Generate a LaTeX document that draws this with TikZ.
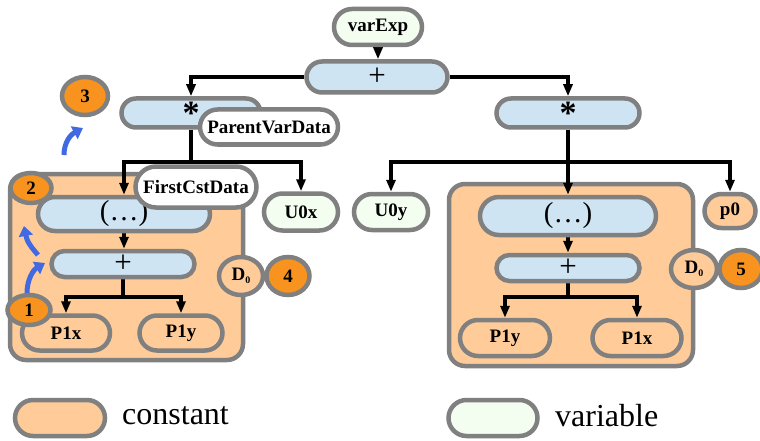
\documentclass[tikz,border=0pt]{standalone}
\usepackage{fontspec}
\setmainfont{Liberation Serif}
\usetikzlibrary{shapes.misc,shapes.geometric,arrows.meta,backgrounds}
\definecolor{cst}{HTML}{FFCC99}
\definecolor{varc}{HTML}{F3FDF0}
\definecolor{opc}{HTML}{CFE4F3}
\definecolor{numc}{HTML}{F7931E}
\definecolor{bord}{HTML}{808080}
\definecolor{barrow}{HTML}{4169E1}
\begin{document}
\begin{tikzpicture}[x=1pt,y=-1pt,
 pill/.style={rounded rectangle, draw=bord, line width=4.5pt, inner sep=0pt, font=\fontsize{19}{19}\selectfont\bfseries},
 oppill/.style={pill, fill=opc, font=\fontsize{31}{31}\selectfont},
 cpill/.style={pill, fill=cst},
 vpill/.style={pill, fill=varc},
 wpill/.style={pill, fill=white},
 numnode/.style={ellipse, draw=bord, line width=4.5pt, fill=numc, inner sep=0pt, font=\fontsize{19}{19}\selectfont\bfseries},
 dnode/.style={ellipse, draw=bord, line width=4.5pt, fill=cst, inner sep=0pt, font=\fontsize{19}{19}\selectfont\bfseries},
 cbox/.style={draw=bord, line width=4.5pt, fill=cst, rounded corners=16pt},
 conn/.style={line width=4.5pt, -{Triangle[width=9pt,length=12pt]}},
 trunk/.style={line width=4.5pt},
 barr/.style={draw=barrow, line width=5pt, -{Triangle[width=14pt,length=10pt]}},
 startxt/.style={font=\fontsize{34}{34}\selectfont\bfseries},
 partxt/.style={font=\fontsize{29}{29}\selectfont},
 legtext/.style={anchor=west, inner sep=0pt, font=\fontsize{32}{32}\selectfont},
]
\useasboundingbox (0,0) rectangle (760,441);

% top level
\node[vpill, minimum width=88pt, minimum height=36pt] (varexp) at (378,27) {varExp};
\node[oppill, minimum width=141pt, minimum height=31pt] (plusT) at (377,77) {+};
\node[oppill, startxt, minimum width=139pt, minimum height=29pt] (starL) at (191,113) {\raisebox{-7pt}{*}};
\node[wpill, minimum width=138pt, minimum height=35pt] (pvd) at (269,127) {ParentVarData};
\node[oppill, startxt, minimum width=143pt, minimum height=29pt] (starR) at (568,113) {\raisebox{-7pt}{*}};

% left constant group
\node[oppill, partxt, minimum width=172pt, minimum height=34pt] (parL) at (124,214) {(…)};
\node[wpill, minimum width=121pt, minimum height=41pt] (fcd) at (196,187) {FirstCstData};
\node[oppill, minimum width=143pt, minimum height=26pt] (plusL) at (123,264) {+};
\node[cpill, minimum width=88pt, minimum height=35pt] (p1xL) at (66,333) {P1x};
\node[cpill, minimum width=83pt, minimum height=35pt] (p1yL) at (181,333) {P1y};
\node[dnode, minimum width=44pt, minimum height=38pt] (d0L) at (241,276) {D\raisebox{-3pt}{\fontsize{10}{10}\selectfont 0}};
\node[numnode, minimum width=43pt, minimum height=38pt] (n4) at (288,276) {4};
\node[numnode, minimum width=41pt, minimum height=30pt] (n2) at (31,188) {2};
\node[numnode, minimum width=43pt, minimum height=30pt] (n1) at (29,310) {1};
\node[numnode, minimum width=46pt, minimum height=38pt] (n3) at (85,96) {3};

\node[vpill, minimum width=74pt, minimum height=37pt] (u0x) at (301,212) {U0x};
\node[vpill, minimum width=74pt, minimum height=36pt] (u0y) at (391,212) {U0y};

% right constant group
\node[oppill, partxt, minimum width=176pt, minimum height=38pt] (parR) at (568,216) {(…)};
\node[oppill, minimum width=143pt, minimum height=26pt] (plusR) at (568,268) {+};
\node[cpill, minimum width=90pt, minimum height=36pt] (p1yR) at (505,338) {P1y};
\node[cpill, minimum width=89pt, minimum height=36pt] (p1xR) at (637,338) {P1x};
\node[cpill, minimum width=51pt, minimum height=34pt] (p0) at (730,211) {p0};
\node[dnode, minimum width=46pt, minimum height=38pt] (d0R) at (694,269) {D\raisebox{-3pt}{\fontsize{10}{10}\selectfont 0}};
\node[numnode, minimum width=43pt, minimum height=38pt] (n5) at (741,269) {5};

% legend
\node[cpill, minimum width=90pt, minimum height=36pt] (legC) at (60,418) {};
\node[legtext] (legCt) at (122,416) {constant};
\node[vpill, minimum width=89pt, minimum height=36pt] (legV) at (493,418) {};
\node[legtext] (legVt) at (555,416) {variable};

% background boxes
\begin{scope}[on background layer]
\path[cbox] (10,174) rectangle (243,360);
\path[cbox] (449,184) rectangle (693,366);
\end{scope}

% connectors
\coordinate (sL) at (191,162);
\coordinate (sR) at (568,162);
\coordinate (tL) at (123,297);
\coordinate (tR) at (568,297);
\begin{scope}[on background layer]
\draw[conn] (varexp.south) -- (varexp.south |- plusT.north);
\draw[conn] (plusT.west) -| (starL.north);
\draw[conn] (plusT.east) -| (starR.north);
\draw[trunk] (starL.south) -- (sL);
\draw[conn] (sL) -| (parL.north);
\draw[conn] (sL) -| (u0x.north);
\draw[conn] (parL.south) -- (parL.south |- plusL.north);
\draw[trunk] (plusL.south) -- (tL);
\draw[conn] (tL) -| (p1xL.north);
\draw[conn] (tL) -| (p1yL.north);
\draw[trunk] (starR.south) -- (sR);
\draw[conn] (sR) -| (u0y.north);
\draw[conn] (sR) -- (parR.north);
\draw[conn] (sR) -| (p0.north);
\draw[conn] (parR.south) -- (plusR.north);
\draw[trunk] (plusR.south) -- (tR);
\draw[conn] (tR) -| (p1yR.north);
\draw[conn] (tR) -| (p1xR.north);
\end{scope}

% blue curved arrows
\coordinate (a1s) at (27,293);
\coordinate (a1e) at (45,263);
\coordinate (a2s) at (38,255);
\coordinate (a2e) at (24,226);
\coordinate (a3s) at (64,155);
\coordinate (a3e) at (83,128);
\draw[barr] (a1s) .. controls (27,280) and (33,270) .. (a1e);
\draw[barr] (a2s) .. controls (32,248) and (27,242) .. (a2e);
\draw[barr] (a3s) .. controls (64,143) and (70,135) .. (a3e);
\end{tikzpicture}
\end{document}
